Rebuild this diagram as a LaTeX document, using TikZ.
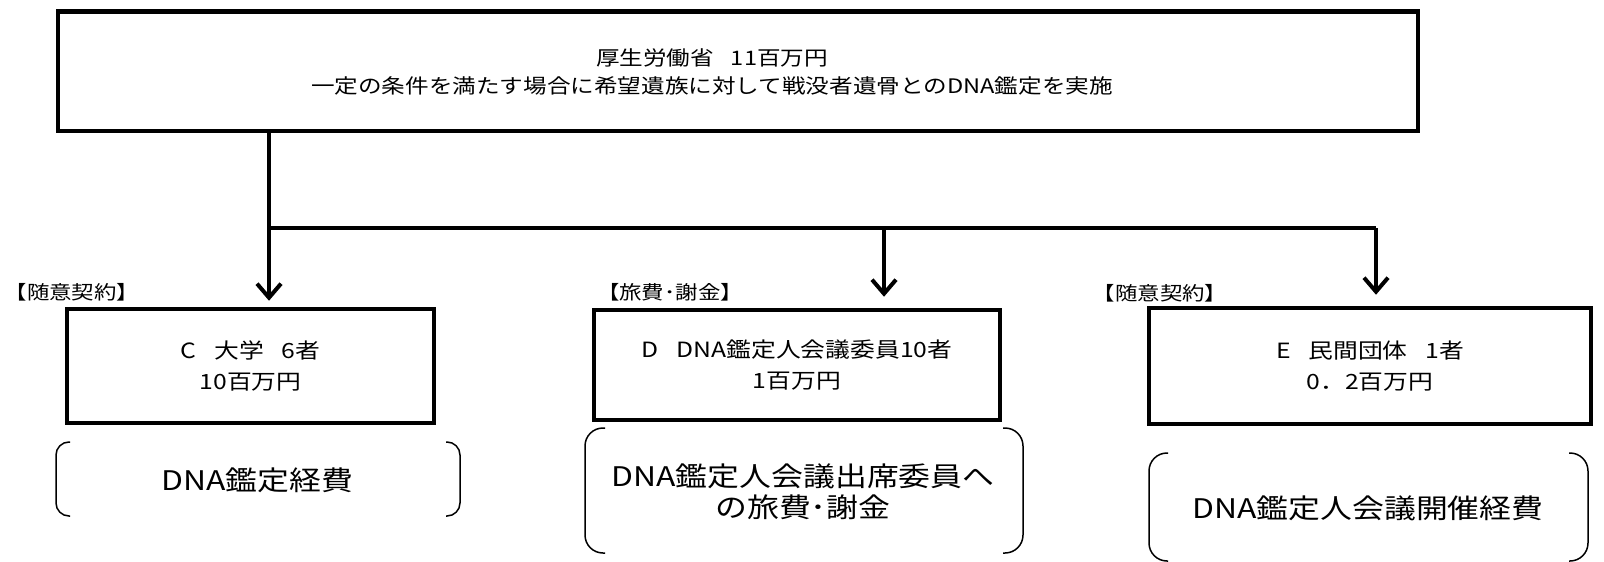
\documentclass[tikz,border=0pt]{standalone}
\usepackage{fontspec}
\setmainfont{Noto Sans CJK JP}[FakeStretch=1.18]
\usetikzlibrary{arrows.meta}
\newcommand\bxfont{\fontsize{21}{31}\selectfont}
\newcommand\tpfont{\fontsize{20}{28}\selectfont}
\newcommand\lbfont{\fontsize{19}{22}\selectfont}
\newcommand\brfont{\fontsize{27}{31}\selectfont}
\newcommand\gap{\hspace{0.85em}}
\begin{document}
\begin{tikzpicture}[x=1pt,y=-1pt,
  box/.style={draw,line width=4.5pt,align=center,font=\bxfont,inner sep=0pt},
  conn/.style={line width=4pt,line join=miter},
  arr/.style={conn,-{Straight Barb[length=14pt,width=24pt]}},
  lbl/.style={font=\lbfont,inner sep=0pt},
  brk/.style={line width=1.5pt},
  brtext/.style={font=\brfont,align=center,inner sep=0pt}]
\useasboundingbox (0,0) rectangle (1604,562);
% main box
\node[box,minimum width=1360pt,minimum height=119.5pt] (top) at (738,71.25) {};
\node[align=center,font=\tpfont,inner sep=0pt] (toptext) at (712,72)
  {厚生労働省\gap 11百万円\\一定の条件を満たす場合に希望遺族に対して戦没者遺骨とのDNA鑑定を実施};
% second level boxes
\node[box,minimum width=367pt,minimum height=114pt] (C) at (250.5,366)
  {C\gap 大学\gap 6者\\10百万円};
\node[box,minimum width=406pt,minimum height=110pt] (D) at (797,365)
  {D\gap DNA鑑定人会議委員10者\\1百万円};
\node[box,minimum width=442pt,minimum height=116pt] (E) at (1370,366)
  {E\gap 民間団体\gap 1者\\0．2百万円};
% labels
\node[lbl] (lc) at (72,292) {【随意契約】};
\node[lbl] (ld) at (670,292) {【旅費･謝金】};
\node[lbl] (le) at (1160,293) {【随意契約】};
% connectors
\coordinate (busL) at (269,228);
\coordinate (busD) at (884,228);
\coordinate (busR) at (1376,228);
\draw[arr,shorten >=6pt] (top.south -| busL) -- (C.north -| busL);
\draw[conn] (busL) -- (busR);
\draw[arr,shorten >=11pt] (busR) -- (E.north -| busR);
\draw[arr,shorten >=11pt] (busD) -- (D.north -| busD);
% brackets and texts
\draw[brk,rounded corners=13pt] (70,442) -- (56,442) -- (56,516) -- (70,516);
\draw[brk,rounded corners=13pt] (446,442) -- (460,442) -- (460,516) -- (446,516);
\node[brtext] (bc) at (257,480) {DNA鑑定経費};
\draw[brk,rounded corners=18pt] (605,428) -- (585,428) -- (585,553) -- (605,553);
\draw[brk,rounded corners=18pt] (1003,428) -- (1023,428) -- (1023,553) -- (1003,553);
\node[brtext] (bd) at (803,492) {DNA鑑定人会議出席委員へ\\の旅費･謝金};
\draw[brk,rounded corners=18pt] (1168,453) -- (1149,453) -- (1149,561) -- (1168,561);
\draw[brk,rounded corners=18pt] (1569,453) -- (1588,453) -- (1588,561) -- (1569,561);
\node[brtext] (be) at (1368,508) {DNA鑑定人会議開催経費};
\end{tikzpicture}
\end{document}
